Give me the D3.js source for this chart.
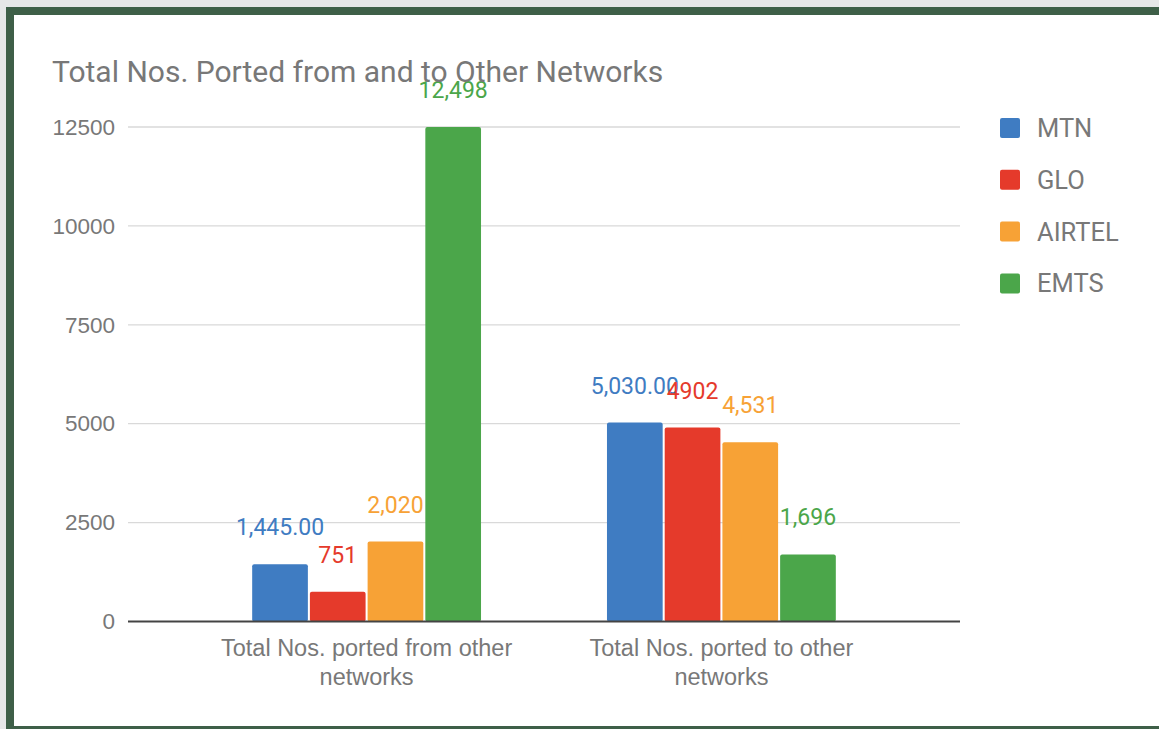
<!DOCTYPE html>
<html>
<head>
<meta charset="utf-8">
<script src="https://cdn.jsdelivr.net/npm/d3@7"></script>
<style>
  body { margin: 0; background: #e6e7e8; }
  svg { display: block; font-family: Roboto, "Noto Sans", sans-serif; }
</style>
</head>
<body>
<div id="chart"></div>
<script>
var categories = ["Total Nos. ported from other networks", "Total Nos. ported to other networks"];
var series = ["MTN", "GLO", "AIRTEL", "EMTS"];
var colors = ["#3f7cc2", "#e53a2b", "#f7a236", "#4ba64a"];
// values per series, in category order
var mtn = [1445, 5030];
var glo = [751, 4902];
var airtel = [2020, 4531];
var emts = [12498, 1696];
// annotation texts as shown on the chart
var mtnLabels = ["1,445.00", "5,030.00"];
var gloLabels = ["751", "4902"];
var airtelLabels = ["2,020", "4,531"];
var emtsLabels = ["12,498", "1,696"];
var yTicks = [0, 2500, 5000, 7500, 10000, 12500];

var W = 1159, H = 729;
var grey = "#787878";

var svg = d3.select("#chart").append("svg")
  .attr("width", W)
  .attr("height", H);

// frame: grey page, dark green border, white card
svg.append("rect").attr("x", 0).attr("y", 0).attr("width", W).attr("height", H).attr("fill", "#e6e7e8");
svg.append("rect").attr("x", 6).attr("y", 7).attr("width", W).attr("height", H - 7).attr("fill", "#3e5f48");
svg.append("rect").attr("x", 14).attr("y", 15).attr("width", W).attr("height", H - 18).attr("fill", "#ffffff");

var plotLeft = 128, plotRight = 960, plotTop = 127, plotBottom = 621.5;

var yScale = d3.scaleLinear()
  .domain([0, 12500])
  .range([plotBottom, plotTop]);

var x0 = d3.scaleBand()
  .domain(categories)
  .range([plotLeft, plotRight])
  .paddingInner(0.355)
  .paddingOuter(0.35);

var x1 = d3.scaleBand()
  .domain(series)
  .range([0, x0.bandwidth()])
  .paddingInner(0.035);

// gridlines
svg.append("g")
  .selectAll("line")
  .data(yTicks.filter(function(d) { return d > 0; }))
  .enter().append("line")
  .attr("x1", plotLeft).attr("x2", plotRight)
  .attr("y1", function(d) { return yScale(d); })
  .attr("y2", function(d) { return yScale(d); })
  .attr("stroke", "#d9d9d9")
  .attr("stroke-width", 1.3);

// y axis labels
var yAxis = svg.append("g")
  .attr("transform", "translate(" + plotLeft + ",0)")
  .call(d3.axisLeft(yScale).tickValues(yTicks).tickSize(0).tickPadding(13).tickFormat(d3.format("d")));
yAxis.select(".domain").remove();
yAxis.selectAll("text")
  .attr("fill", grey)
  .style("font-size", "22.5px");

var values = [mtn, glo, airtel, emts];
var labels = [mtnLabels, gloLabels, airtelLabels, emtsLabels];

var rows = [];
series.forEach(function(s, i) {
  categories.forEach(function(c, j) {
    rows.push({ series: s, cat: c, value: values[i][j], label: labels[i][j], color: colors[i] });
  });
});

// bars
svg.append("g")
  .selectAll("rect")
  .data(rows)
  .enter().append("rect")
  .attr("x", function(d) { return x0(d.cat) + x1(d.series); })
  .attr("width", x1.bandwidth())
  .attr("y", function(d) { return yScale(d.value); })
  .attr("height", function(d) { return plotBottom - yScale(d.value); })
  .attr("rx", 2)
  .attr("fill", function(d) { return d.color; });

// baseline
svg.append("line")
  .attr("x1", plotLeft).attr("x2", plotRight)
  .attr("y1", plotBottom).attr("y2", plotBottom)
  .attr("stroke", "#444")
  .attr("stroke-width", 1.8);

// value annotations
svg.append("g")
  .selectAll("text")
  .data(rows)
  .enter().append("text")
  .attr("x", function(d) { return x0(d.cat) + x1(d.series) + x1.bandwidth() / 2; })
  .attr("y", function(d) { return yScale(d.value) - 29; })
  .attr("text-anchor", "middle")
  .attr("fill", function(d) { return d.color; })
  .style("font-size", "23px")
  .text(function(d) { return d.label; });

// category labels, wrapped
var xAxis = svg.append("g")
  .attr("transform", "translate(0," + plotBottom + ")")
  .call(d3.axisBottom(x0).tickSize(0).tickPadding(0));
xAxis.select(".domain").remove();
xAxis.selectAll("text")
  .attr("fill", grey)
  .style("font-size", "23.5px")
  .each(function(d) {
    var t = d3.select(this);
    var words = d.split(" ");
    var first = words.slice(0, words.length - 1).join(" ");
    var last = words[words.length - 1];
    t.text(null).attr("dy", null);
    t.append("tspan").attr("x", 0).attr("y", 34).text(first);
    t.append("tspan").attr("x", 0).attr("y", 63).text(last);
  });

// title
svg.append("text")
  .attr("x", 52)
  .attr("y", 82)
  .attr("fill", grey)
  .style("font-size", "30px")
  .text("Total Nos. Ported from and to Other Networks");

// legend
var legend = svg.append("g")
  .selectAll("g")
  .data(series)
  .enter().append("g")
  .attr("transform", function(d, i) { return "translate(1000," + (118 + i * 51.8) + ")"; });

legend.append("rect")
  .attr("width", 20).attr("height", 20)
  .attr("rx", 2)
  .attr("fill", function(d, i) { return colors[i]; });

legend.append("text")
  .attr("x", 37)
  .attr("y", 19)
  .attr("fill", grey)
  .style("font-size", "25.5px")
  .text(function(d) { return d; });
</script>
</body>
</html>
